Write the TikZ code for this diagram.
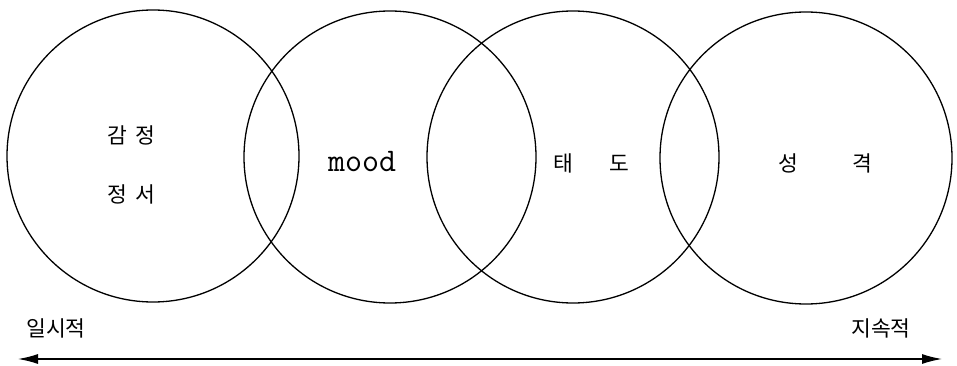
\documentclass[tikz,border=0pt]{standalone}
\usepackage{fontspec}
\newfontfamily\kr{Noto Sans CJK KR}
\usetikzlibrary{arrows.meta}
\tikzset{
  ring/.style={draw, circle, line width=1.3pt, minimum size=292pt, inner sep=0pt},
  krtext/.style={font=\kr\fontsize{21.5}{24}\selectfont, inner sep=0pt},
  entext/.style={font=\ttfamily\fontsize{33}{36}\selectfont, inner sep=0pt},
  timeline/.style={line width=1.4pt, {Latex[length=20pt,width=10pt]}-{Latex[length=20pt,width=10pt]}}
}
\begin{document}
\begin{tikzpicture}[x=1pt,y=-1pt]
\useasboundingbox (0,0) rectangle (957,366);
\node[ring] (c1) at (153,156) {};
\node[ring] (c2) at (390,157) {};
\node[ring] (c3) at (573,157) {};
\node[ring] (c4) at (806,158) {};
\node[krtext] (t1) at (131,135) {감\hspace{8pt}정};
\node[krtext] (t2) at (131,194) {정\hspace{8pt}서};
\node[entext] (t3) at (362,162) {mood};
\node[krtext] (t4) at (591,163) {태\hspace{36pt}도};
\node[krtext] (t5) at (825,163) {성\hspace{54pt}격};
\node[krtext] (t6) at (56,328) {일시적};
\node[krtext] (t7) at (881,328) {지속적};
\coordinate (a1) at (18,359);
\coordinate (a2) at (942,359);
\draw[timeline] (a1) -- (a2);
\end{tikzpicture}
\end{document}
